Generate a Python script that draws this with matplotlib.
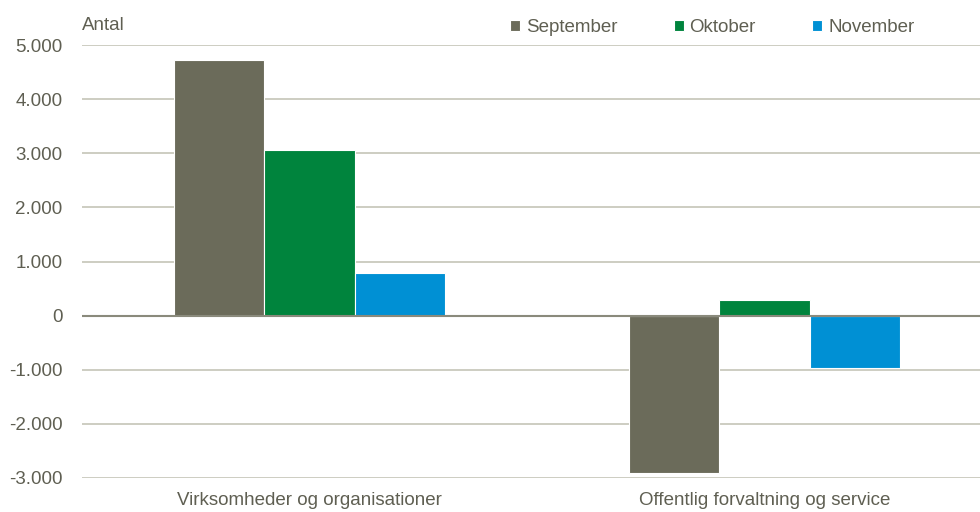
import matplotlib.pyplot as plt
import numpy as np

plt.rcParams['font.family'] = ['Liberation Sans', 'DejaVu Sans']

categories = ['Virksomheder og organisationer', 'Offentlig forvaltning og service']
months = ['September', 'Oktober', 'November']
september = [4720, -2900]
oktober = [3055, 295]
november = [780, -960]
yticks = [-3000, -2000, -1000, 0, 1000, 2000, 3000, 4000, 5000]
ytick_labels = ['-3.000', '-2.000', '-1.000', '0', '1.000', '2.000', '3.000', '4.000', '5.000']

colors = ['#6b6b5a', '#00843d', '#0090d4']
text_col = '#5f5f52'
fs = 13.5


def main():
    fig = plt.figure(figsize=(9.8, 5.12), dpi=100)
    # axes runs a bit past the right edge like in the original
    ax = fig.add_axes([82 / 980, (512 - 478) / 512, 910 / 980, (478 - 45) / 512])

    x = np.arange(len(categories))
    w = 0.198
    series = [september, oktober, november]
    for i, (vals, col, lab) in enumerate(zip(series, colors, months)):
        ax.bar(x + (i - 1) * w, vals, w, color=col, edgecolor='white',
               linewidth=0.8, label=lab, zorder=3)

    ax.set_xlim(-0.5, 1.5)
    ax.set_ylim(-3000, 5000)
    ax.set_yticks(yticks)
    ax.set_yticklabels(ytick_labels)
    ax.yaxis.grid(True, color='#c9c9bd', linewidth=1.3, zorder=0)
    ax.axhline(0, color='#8a8a7c', linewidth=1.5, zorder=4)
    ax.set_xticks(x)
    ax.set_xticklabels(categories)
    ax.tick_params(axis='both', length=0, labelsize=fs, colors=text_col)
    ax.tick_params(axis='y', pad=14)
    ax.tick_params(axis='x', pad=10)
    for s in ax.spines.values():
        s.set_visible(False)

    fig.text(82 / 980, 1 - 26 / 512, 'Antal', fontsize=fs, color=text_col,
             ha='left', va='center')

    fig.legend(loc='center left', bbox_to_anchor=(510 / 980, 1 - 28 / 512), ncol=3,
               frameon=False, fontsize=fs, labelcolor=text_col, handlelength=0.53,
               handleheight=0.53, handletextpad=0.32, columnspacing=3.0,
               borderaxespad=0, borderpad=0)

    fig.savefig('out.png', dpi=100)


if __name__ == '__main__':
    main()
